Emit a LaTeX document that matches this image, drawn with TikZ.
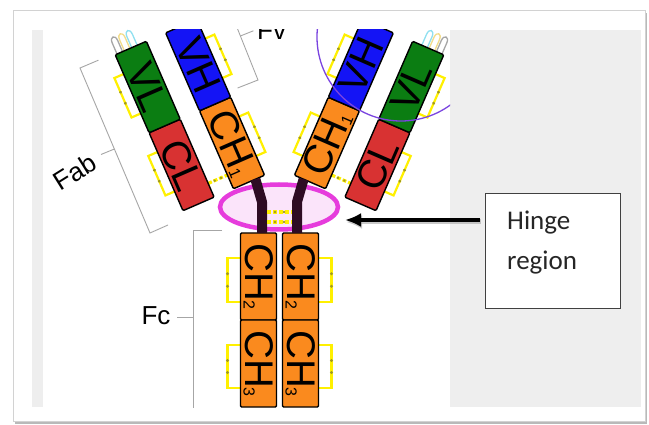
\documentclass[tikz,border=0pt]{standalone}
\usepackage{fontspec}
\setmainfont{Liberation Sans}
\newfontfamily\hingefont{Carlito}
\usetikzlibrary{arrows.meta,shapes.geometric}

\definecolor{vlgreen}{HTML}{0B7D12}
\definecolor{clred}{HTML}{D83232}
\definecolor{vhblue}{HTML}{1414F5}
\definecolor{chorange}{HTML}{FA8A1E}
\definecolor{hingedark}{HTML}{2E0C24}
\definecolor{ssyellow}{HTML}{FFF000}
\definecolor{ssdot}{HTML}{A09A20}
\definecolor{ringpink}{HTML}{E63CDC}
\definecolor{ringfill}{HTML}{FBE4FA}
\definecolor{panelgray}{HTML}{EEEEEE}
\definecolor{cdrviolet}{HTML}{7A44E0}
\definecolor{loopyellow}{HTML}{F2DC8A}
\definecolor{loopcyan}{HTML}{8FE0F0}

% small lowered index inside a domain label
\newcommand\dsub[1]{{\fontsize{16}{16}\selectfont\raisebox{-2pt}{#1}}}
% intra-domain disulfide: edge x, outward offset, low y, high y
\newcommand\ssbracket[4]{%
  \draw[ssline] (#1,#3) -- ({#1+#2},#3) -- ({#1+#2},#4) -- (#1,#4);
  \fill[ssdot] ({#1+#2},{#3+(#4-#3)*0.36}) circle (1.6);
  \fill[ssdot] ({#1+#2},{#3+(#4-#3)*0.64}) circle (1.6);}
% hypervariable loop sticking out of a variable domain
\newcommand\cdrloop[2]{%
  \draw[loopline,draw=#2] (#1,170) -- (#1,182) .. controls (#1,189) and ({#1+6},189) .. ({#1+6},182) -- ({#1+6},170);}

\begin{document}
\begin{tikzpicture}[x=1pt,y=1pt,
  dombox/.style={draw=black, line width=1.4pt, rounded corners=1.2pt, inner sep=0pt,
    minimum width=85pt, minimum height=34pt, font=\fontsize{40}{40}\selectfont},
  fcbox/.style={dombox, minimum width=87pt, minimum height=36pt},
  ssline/.style={draw=ssyellow, line width=2.2pt},
  ssbridge/.style={draw=ssyellow, line width=3.2pt, dash pattern=on 4pt off 2pt},
  guide/.style={draw=gray!70, line width=0.9pt},
  chainlink/.style={draw=hingedark, line width=10pt, line join=round},
  loopline/.style={line width=1.3pt},
  tag/.style={font=\fontsize{26}{26}\selectfont, inner sep=0pt},
]
\useasboundingbox (0,0) rectangle (649,-425);

% frame and panels
\fill[gray!55] (15,-13) rectangle (647,-424);
\fill[white] (13,-11) rectangle (645,-421);
\draw[gray!35, line width=1pt] (13,-11) rectangle (645,-421);
\fill[panelgray] (32,-30) rectangle (641,-407);
\fill[white] (43,-30) rectangle (450,-407);

\begin{scope}
\clip (43,-30) rectangle (450,-407);

% region brackets
\draw[guide] (98.4,-60.2) -- (80,-68) -- (150,-233) -- (168,-225);
\draw[guide] (114.4,-149) -- (101,-154.5);
\node[tag, rotate=32] (fab) at (75,-172) {Fab};
\draw[guide] (232,-15) -- (258,-80) -- (237.6,-88);
\draw[guide] (240.4,-36) -- (253.4,-30.8);
\node[tag, anchor=base west] (fv) at (257,-40) {Fv};
\draw[guide] (222,-230) -- (193,-230) -- (193,-410);
\draw[guide] (193,-317) -- (177,-317);
\node[tag] (fc) at (156,-316) {Fc};

% left Fab arm
\begin{scope}[shift={(249,-182)}, rotate=23.5, transform shape]
  \ssbracket{-72}{-10}{106}{149}
  \ssbracket{-72}{-10}{21}{64}
  \ssbracket{17}{10}{106}{149}
  \ssbracket{17}{10}{21}{64}
  \draw[ssbridge] (-38,15) -- (-17,15);
  \fill[ssdot] (-31,15) circle (1.4);
  \fill[ssdot] (-24,15) circle (1.4);
  \cdrloop{-70}{gray!70}
  \cdrloop{-62}{loopyellow}
  \cdrloop{-54}{loopcyan}
  \node[dombox, fill=clred, rotate=-90] (lcl) at (-55,42.5) {CL};
  \node[dombox, fill=vlgreen, rotate=-90] (lvl) at (-55,127.5) {VL};
  \node[dombox, fill=chorange, rotate=-90] (lch) at (0,42.5) {CH\dsub{1}};
  \node[dombox, fill=vhblue, rotate=-90] (lvh) at (0,127.5) {VH};
  \coordinate (hl) at (7,0);
\end{scope}

% right Fab arm
\begin{scope}[shift={(310,-182)}, rotate=-23.5, transform shape]
  \ssbracket{72}{10}{106}{149}
  \ssbracket{72}{10}{21}{64}
  \ssbracket{-17}{-10}{106}{149}
  \ssbracket{-17}{-10}{21}{64}
  \draw[ssbridge] (17,15) -- (38,15);
  \fill[ssdot] (24,15) circle (1.4);
  \fill[ssdot] (31,15) circle (1.4);
  \cdrloop{64}{gray!70}
  \cdrloop{56}{loopyellow}
  \cdrloop{48}{loopcyan}
  \node[dombox, fill=clred, rotate=90] (rcl) at (55,42.5) {CL};
  \node[dombox, fill=vlgreen, rotate=90] (rvl) at (55,127.5) {VL};
  \node[dombox, fill=chorange, rotate=90] (rch) at (0,42.5) {CH\dsub{1}};
  \node[dombox, fill=vhblue, rotate=90] (rvh) at (0,127.5) {VH};
  \coordinate (hr) at (-7,0);
\end{scope}

% Fc stem
\ssbracket{240.5}{-13}{-302}{-258}
\ssbracket{240.5}{-13}{-388}{-345}
\ssbracket{318.5}{13}{-302}{-258}
\ssbracket{318.5}{13}{-388}{-345}
\node[fcbox, fill=chorange, rotate=-90] (fl2) at (258.5,-276.5) {CH\dsub{2}};
\node[fcbox, fill=chorange, rotate=-90] (fl3) at (258.5,-363.5) {CH\dsub{3}};
\node[fcbox, fill=chorange, rotate=-90] (fr2) at (300.5,-276.5) {CH\dsub{2}};
\node[fcbox, fill=chorange, rotate=-90] (fr3) at (300.5,-363.5) {CH\dsub{3}};

% hinge
\node[ellipse, draw=ringpink, fill=ringfill, line width=4.5pt, inner sep=0pt,
      minimum width=118pt, minimum height=45pt] (hinge) at (279,-207) {};
\draw[chainlink] (hl) -- (262,-202) -- (262,-233);
\draw[chainlink] (hr) -- (297,-202) -- (297,-233);
\draw[ssbridge] (267,-212) -- (292,-212);
\draw[ssbridge] (267,-222) -- (292,-222);
\foreach \yy in {-212,-222} {
  \fill[ssdot] (275,\yy) circle (1.4);
  \fill[ssdot] (284,\yy) circle (1.4);
}

% antigen-binding site
\draw[cdrviolet, line width=1.3pt] (401,-37) circle (84);
\end{scope}

% callout
\node[draw=black!75, fill=white, line width=0.9pt, minimum width=135pt,
      minimum height=115pt, inner sep=0pt] (hbox) at (552.5,-250.5) {};
\node[anchor=base west, align=left, inner sep=0pt, text=black!85,
      font=\hingefont\fontsize{27}{40}\selectfont] (htext) at (507,-270) {Hinge\\region};
\coordinate (tip) at (345,-220);
\draw[black!35, opacity=0.6, line width=5pt, shorten <=5pt, -{Latex[length=16pt,width=14pt]}]
  ([xshift=1pt,yshift=28.5pt]hbox.west) -- ([xshift=1pt,yshift=-2pt]tip);
\draw[black, line width=4pt, shorten <=5pt, -{Latex[length=16pt,width=14pt]}]
  ([yshift=30.5pt]hbox.west) -- (tip);
\end{tikzpicture}
\end{document}
